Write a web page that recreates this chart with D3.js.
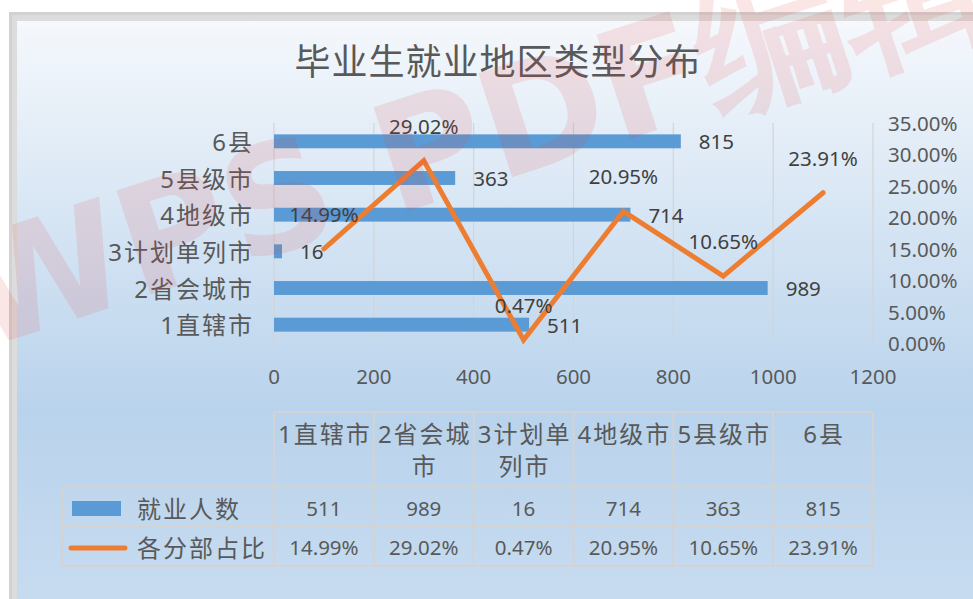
<!DOCTYPE html>
<html><head><meta charset="utf-8">
<script src="https://cdn.jsdelivr.net/npm/d3@7"></script>
<style>
html,body{margin:0;padding:0;background:#fff;overflow:hidden}
svg{display:block}
text{font-family:"Noto Sans","Noto Sans CJK SC",sans-serif;fill:#595959}
</style></head>
<body>
<svg id="c" width="973" height="599"></svg>
<script>
// ---- data ----
const title = "毕业生就业地区类型分布";
const categories = ["1直辖市","2省会城市","3计划单列市","4地级市","5县级市","6县"];
const counts = [511, 989, 16, 714, 363, 815];
const shares = [14.99, 29.02, 0.47, 20.95, 10.65, 23.91];
const seriesNames = ["就业人数", "各分部占比"];
const xTicks = [0, 200, 400, 600, 800, 1000, 1200];
const y2Ticks = [0, 5, 10, 15, 20, 25, 30, 35];
const watermark = "WPS PDF编辑器";

const svg = d3.select("#c");
const W = 973, H = 599;
const BLUE = "#5B9BD5", ORANGE = "#ED7D31", DARK = "#404040";
const NUM = "20.5px", CJK = "24px", LS = "2px";

// defs
const defs = svg.append("defs");
const bg = defs.append("linearGradient").attr("id","bg").attr("x1",0).attr("y1",0).attr("x2",0).attr("y2",1);
bg.append("stop").attr("offset","0%").attr("stop-color","#f5f8fc");
bg.append("stop").attr("offset","65%").attr("stop-color","#b9d3ec");
bg.append("stop").attr("offset","100%").attr("stop-color","#c8dcf0");

// frame + background
svg.append("rect").attr("x",9).attr("y",12).attr("width",W).attr("height",H).attr("fill","#d2d2d2");
svg.append("rect").attr("x",12).attr("y",15).attr("width",W).attr("height",H).attr("fill","#dcdcdc");
svg.append("rect").attr("x",17).attr("y",21).attr("width",W).attr("height",H).attr("fill","url(#bg)");

// title
svg.append("text").attr("x",498).attr("y",61).attr("text-anchor","middle")
  .attr("dominant-baseline","central").style("font-size","36px").style("letter-spacing","1px").text(title);

// scales
const x = d3.scaleLinear().domain([0,1200]).range([274,873]);
const y = d3.scaleBand().domain(categories.slice().reverse()).range([123,343]).paddingInner(0.62).paddingOuter(0.31);
const xl = d3.scalePoint().domain(categories).range([274,873]).padding(0.5);
const y2 = d3.scaleLinear().domain([0,35]).range([343,123]);
const col = d3.scaleBand().domain(categories).range([274,873]).paddingInner(0).paddingOuter(0);

// gridlines
svg.append("g").selectAll("line").data(xTicks).join("line")
  .attr("x1",d=>x(d)).attr("x2",d=>x(d)).attr("y1",123).attr("y2",343)
  .attr("stroke","#d4d4d4").attr("stroke-width",1.2);

// x axis labels
svg.append("g").selectAll("text").data(xTicks).join("text")
  .attr("x",d=>x(d)).attr("y",376).attr("text-anchor","middle").attr("dominant-baseline","central")
  .style("font-size",NUM).text(d=>d);

// right axis labels
svg.append("g").selectAll("text").data(y2Ticks).join("text")
  .attr("x",888).attr("y",d=>y2(d)).attr("dominant-baseline","central")
  .style("font-size",NUM).text(d=>d.toFixed(2)+"%");

// left category labels
svg.append("g").selectAll("text").data(categories).join("text")
  .attr("x",254).attr("y",d=>y(d)+y.bandwidth()/2).attr("text-anchor","end").attr("dominant-baseline","central")
  .style("font-size",CJK).style("letter-spacing",LS).text(d=>d);

// bars
const rows = categories.map((c,i)=>({c, v:counts[i], s:shares[i]}));
svg.append("g").selectAll("rect").data(rows).join("rect")
  .attr("x",x(0)).attr("y",d=>y(d.c)).attr("width",d=>x(d.v)-x(0)).attr("height",y.bandwidth())
  .attr("fill",BLUE);

// bar labels
svg.append("g").selectAll("text").data(rows).join("text")
  .attr("x",d=>x(d.v)+18).attr("y",d=>y(d.c)+y.bandwidth()/2).attr("dominant-baseline","central")
  .style("font-size",NUM).style("fill",DARK).text(d=>d.v);

// line
svg.append("path").datum(rows)
  .attr("d",d3.line().x(d=>xl(d.c)).y(d=>y2(d.s)))
  .attr("fill","none").attr("stroke",ORANGE).attr("stroke-width",5)
  .attr("stroke-linejoin","miter").attr("stroke-linecap","round");

// line labels
svg.append("g").selectAll("text").data(rows).join("text")
  .attr("x",d=>xl(d.c)).attr("y",d=>y2(d.s)-35).attr("text-anchor","middle").attr("dominant-baseline","central")
  .style("font-size",NUM).style("fill",DARK).text(d=>d.s.toFixed(2)+"%");

// data table
const tTop = 412, r1 = 487, r2 = 527, tBot = 566, tLeft = 62;
const tb = svg.append("g").attr("stroke","#d3d3d3").attr("stroke-width",2).attr("fill","none");
tb.append("line").attr("x1",col.range()[0]).attr("x2",col.range()[1]).attr("y1",tTop).attr("y2",tTop);
[r1,r2,tBot].forEach(yy=>tb.append("line").attr("x1",tLeft).attr("x2",col.range()[1]).attr("y1",yy).attr("y2",yy));
tb.append("line").attr("x1",tLeft).attr("x2",tLeft).attr("y1",r1).attr("y2",tBot);
const bounds = categories.map(c=>col(c)).concat([col.range()[1]]);
tb.selectAll(".v").data(bounds).join("line").attr("class","v")
  .attr("x1",d=>d).attr("x2",d=>d).attr("y1",tTop).attr("y2",tBot);

// header (wrap at 4 chars)
const wrap = s => s.length > 4 ? [s.slice(0,4), s.slice(4)] : [s];
const hg = svg.append("g");
categories.forEach(c=>{
  wrap(c).forEach((ln,k)=>{
    hg.append("text").attr("x",xl(c)+1).attr("y",433+k*32).attr("text-anchor","middle")
      .attr("dominant-baseline","central").style("font-size",CJK).style("letter-spacing",LS).text(ln);
  });
});
svg.append("g").selectAll("text").data(rows).join("text")
  .attr("x",d=>xl(d.c)).attr("y",508).attr("text-anchor","middle").attr("dominant-baseline","central")
  .style("font-size",NUM).text(d=>d.v);
svg.append("g").selectAll("text").data(rows).join("text")
  .attr("x",d=>xl(d.c)).attr("y",547).attr("text-anchor","middle").attr("dominant-baseline","central")
  .style("font-size",NUM).text(d=>d.s.toFixed(2)+"%");

// legend keys
svg.append("rect").attr("x",72).attr("y",501).attr("width",49).attr("height",15).attr("fill",BLUE);
svg.append("line").attr("x1",71).attr("x2",125).attr("y1",548).attr("y2",548)
  .attr("stroke",ORANGE).attr("stroke-width",5).attr("stroke-linecap","round");
svg.append("text").attr("x",137).attr("y",508).attr("dominant-baseline","central")
  .style("font-size",CJK).style("letter-spacing",LS).text(seriesNames[0]);
svg.append("text").attr("x",137).attr("y",547).attr("dominant-baseline","central")
  .style("font-size",CJK).style("letter-spacing",LS).text(seriesNames[1]);

// watermark
svg.append("text").attr("transform","translate(-20,350) rotate(-18)")
  .style("font-family","'DejaVu Sans',sans-serif").style("font-weight","bold").style("font-size","150px")
  .style("fill","rgb(230,60,60)").style("opacity",0.12).text(watermark);
</script>
</body></html>
